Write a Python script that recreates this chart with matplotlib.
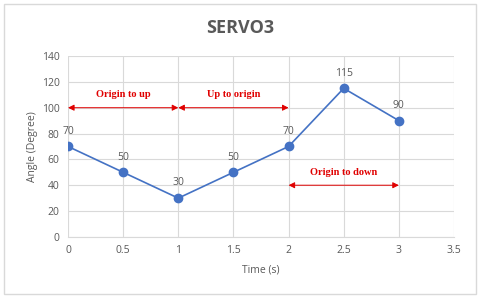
import matplotlib.pyplot as plt

# data
time_s = [0, 0.5, 1, 1.5, 2, 2.5, 3]
angle = [70, 50, 30, 50, 70, 115, 90]
x_ticks = [0, 0.5, 1, 1.5, 2, 2.5, 3, 3.5]
x_tick_labels = ["0", "0.5", "1", "1.5", "2", "2.5", "3", "3.5"]
y_ticks = [0, 20, 40, 60, 80, 100, 120, 140]

# phase annotations: (start, end, arrow y, text y, label)
phases = [
    (0, 1, 100, 110, "Origin to up"),
    (1, 2, 100, 110, "Up to origin"),
    (2, 3, 40, 50, "Origin to down"),
]

grey = "#595959"
blue = "#4472C4"
red = "#E00000"

plt.rcParams["font.family"] = ["Open Sans", "DejaVu Sans"]

fig = plt.figure(figsize=(4.8, 2.98), dpi=100)
ax = fig.add_axes([0.1417, 0.205, 0.8041, 0.607])

# outer chart border
fig.patches.append(plt.Rectangle((0.008, 0.012), 0.984, 0.976, transform=fig.transFigure,
                                 fill=False, edgecolor="#d9d9d9", lw=1))

ax.plot(time_s, angle, color=blue, lw=1.2, marker="o", ms=6, zorder=3)
for t, a in zip(time_s, angle):
    ax.annotate(str(a), (t, a), xytext=(0, 7), textcoords="offset points",
                ha="center", va="bottom", fontsize=7.5, color=grey)

for x0, x1, ya, yt, label in phases:
    ax.annotate("", xy=(x0, ya), xytext=(x1, ya),
                arrowprops=dict(arrowstyle="<|-|>", color=red, lw=0.7,
                                mutation_scale=9, shrinkA=0, shrinkB=0))
    ax.text((x0 + x1) / 2, yt, label, ha="center", va="center", color=red,
            fontsize=7.5, fontweight="bold", family="Liberation Serif")

ax.set_xlim(0, 3.5)
ax.set_ylim(0, 140)
ax.set_xticks(x_ticks)
ax.set_xticklabels(x_tick_labels)
ax.set_yticks(y_ticks)
ax.grid(True, color="#d9d9d9", lw=0.8)
ax.set_axisbelow(True)
for side in ["top", "right", "left"]:
    ax.spines[side].set_visible(False)
ax.spines["bottom"].set_color("#d9d9d9")
ax.tick_params(length=0, labelsize=7.5, labelcolor=grey, pad=6)

ax.set_xlabel("Time (s)", fontsize=7.5, color=grey, labelpad=6)
ax.set_ylabel("Angle (Degree)", fontsize=7.5, color=grey, labelpad=3)
fig.text(0.5, 0.905, "SERVO3", ha="center", va="center", fontsize=13,
         fontweight="bold", color=grey)

fig.savefig("out.png", dpi=100)
